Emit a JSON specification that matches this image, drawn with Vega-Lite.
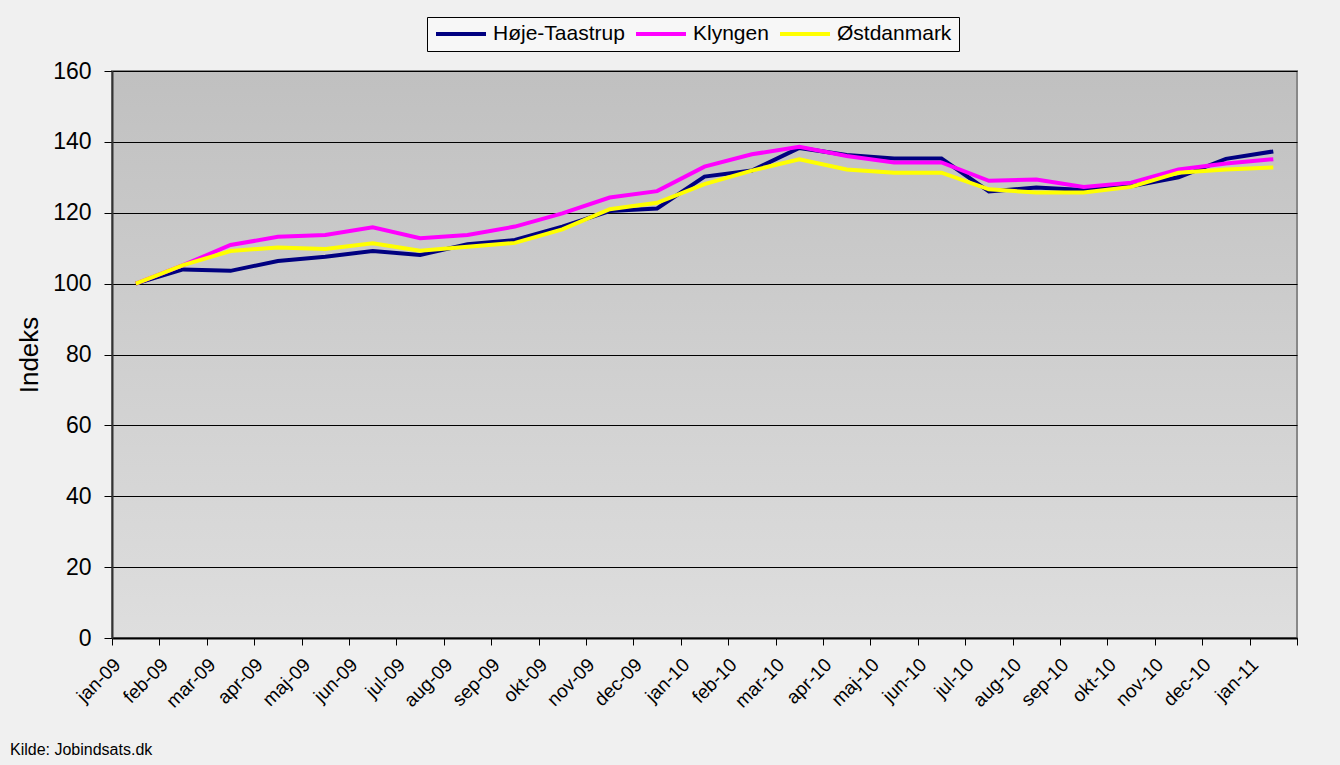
{
  "$schema": "https://vega.github.io/schema/vega-lite/v6.json",
  "width": 1185,
  "height": 567,
  "autosize": {"type": "none"},
  "padding": {"left": 112, "top": 71, "right": 43, "bottom": 127},
  "background": "#f0f0f0",
  "config": {
    "font": "Liberation Sans"
  },
  "view": {
    "stroke": "#888888",
    "strokeWidth": 2,
    "fill": {
      "gradient": "linear",
      "x1": 0, "y1": 0, "x2": 0, "y2": 1,
      "stops": [
        {"offset": 0, "color": "#c0c0c0"},
        {"offset": 1, "color": "#dedede"}
      ]
    }
  },
  "title": {
    "text": "Kilde: Jobindsats.dk",
    "orient": "bottom",
    "anchor": "start",
    "frame": "group",
    "fontSize": 16,
    "fontWeight": "normal",
    "color": "black",
    "dx": -102,
    "offset": 31
  },
  "data": {
    "values": [
      {"month": "jan-09", "series": "Høje-Taastrup", "value": 100},
      {"month": "feb-09", "series": "Høje-Taastrup", "value": 104.0},
      {"month": "mar-09", "series": "Høje-Taastrup", "value": 103.6},
      {"month": "apr-09", "series": "Høje-Taastrup", "value": 106.4},
      {"month": "maj-09", "series": "Høje-Taastrup", "value": 107.6},
      {"month": "jun-09", "series": "Høje-Taastrup", "value": 109.2},
      {"month": "jul-09", "series": "Høje-Taastrup", "value": 108.1},
      {"month": "aug-09", "series": "Høje-Taastrup", "value": 111.1},
      {"month": "sep-09", "series": "Høje-Taastrup", "value": 112.3},
      {"month": "okt-09", "series": "Høje-Taastrup", "value": 116.1},
      {"month": "nov-09", "series": "Høje-Taastrup", "value": 120.5},
      {"month": "dec-09", "series": "Høje-Taastrup", "value": 121.2},
      {"month": "jan-10", "series": "Høje-Taastrup", "value": 130.2},
      {"month": "feb-10", "series": "Høje-Taastrup", "value": 131.9},
      {"month": "mar-10", "series": "Høje-Taastrup", "value": 138.3},
      {"month": "apr-10", "series": "Høje-Taastrup", "value": 136.3},
      {"month": "maj-10", "series": "Høje-Taastrup", "value": 135.3},
      {"month": "jun-10", "series": "Høje-Taastrup", "value": 135.3},
      {"month": "jul-10", "series": "Høje-Taastrup", "value": 126.0},
      {"month": "aug-10", "series": "Høje-Taastrup", "value": 127.1},
      {"month": "sep-10", "series": "Høje-Taastrup", "value": 126.4},
      {"month": "okt-10", "series": "Høje-Taastrup", "value": 127.5},
      {"month": "nov-10", "series": "Høje-Taastrup", "value": 130.0},
      {"month": "dec-10", "series": "Høje-Taastrup", "value": 135.2},
      {"month": "jan-11", "series": "Høje-Taastrup", "value": 137.3},
      {"month": "jan-09", "series": "Klyngen", "value": 100},
      {"month": "feb-09", "series": "Klyngen", "value": 105.2},
      {"month": "mar-09", "series": "Klyngen", "value": 110.9},
      {"month": "apr-09", "series": "Klyngen", "value": 113.2},
      {"month": "maj-09", "series": "Klyngen", "value": 113.7},
      {"month": "jun-09", "series": "Klyngen", "value": 115.9},
      {"month": "jul-09", "series": "Klyngen", "value": 112.8},
      {"month": "aug-09", "series": "Klyngen", "value": 113.7},
      {"month": "sep-09", "series": "Klyngen", "value": 116.1},
      {"month": "okt-09", "series": "Klyngen", "value": 119.8},
      {"month": "nov-09", "series": "Klyngen", "value": 124.3},
      {"month": "dec-09", "series": "Klyngen", "value": 126.1},
      {"month": "jan-10", "series": "Klyngen", "value": 133.0},
      {"month": "feb-10", "series": "Klyngen", "value": 136.5},
      {"month": "mar-10", "series": "Klyngen", "value": 138.6},
      {"month": "apr-10", "series": "Klyngen", "value": 136.0},
      {"month": "maj-10", "series": "Klyngen", "value": 134.2},
      {"month": "jun-10", "series": "Klyngen", "value": 134.2},
      {"month": "jul-10", "series": "Klyngen", "value": 129.0},
      {"month": "aug-10", "series": "Klyngen", "value": 129.4},
      {"month": "sep-10", "series": "Klyngen", "value": 127.3},
      {"month": "okt-10", "series": "Klyngen", "value": 128.5},
      {"month": "nov-10", "series": "Klyngen", "value": 132.2},
      {"month": "dec-10", "series": "Klyngen", "value": 133.9},
      {"month": "jan-11", "series": "Klyngen", "value": 135.1},
      {"month": "jan-09", "series": "Østdanmark", "value": 100},
      {"month": "feb-09", "series": "Østdanmark", "value": 105.2},
      {"month": "mar-09", "series": "Østdanmark", "value": 109.2},
      {"month": "apr-09", "series": "Østdanmark", "value": 110.2},
      {"month": "maj-09", "series": "Østdanmark", "value": 109.8},
      {"month": "jun-09", "series": "Østdanmark", "value": 111.4},
      {"month": "jul-09", "series": "Østdanmark", "value": 109.3},
      {"month": "aug-09", "series": "Østdanmark", "value": 110.4},
      {"month": "sep-09", "series": "Østdanmark", "value": 111.5},
      {"month": "okt-09", "series": "Østdanmark", "value": 115.3},
      {"month": "nov-09", "series": "Østdanmark", "value": 121.0},
      {"month": "dec-09", "series": "Østdanmark", "value": 122.8},
      {"month": "jan-10", "series": "Østdanmark", "value": 128.1},
      {"month": "feb-10", "series": "Østdanmark", "value": 131.9},
      {"month": "mar-10", "series": "Østdanmark", "value": 135.1},
      {"month": "apr-10", "series": "Østdanmark", "value": 132.2},
      {"month": "maj-10", "series": "Østdanmark", "value": 131.3},
      {"month": "jun-10", "series": "Østdanmark", "value": 131.3},
      {"month": "jul-10", "series": "Østdanmark", "value": 126.6},
      {"month": "aug-10", "series": "Østdanmark", "value": 125.7},
      {"month": "sep-10", "series": "Østdanmark", "value": 125.7},
      {"month": "okt-10", "series": "Østdanmark", "value": 127.3},
      {"month": "nov-10", "series": "Østdanmark", "value": 131.3},
      {"month": "dec-10", "series": "Østdanmark", "value": 132.2},
      {"month": "jan-11", "series": "Østdanmark", "value": 132.8}
    ]
  },
  "mark": {"type": "line", "strokeWidth": 4},
  "encoding": {
    "x": {
      "field": "month", "type": "ordinal", "sort": null,
      "scale": {"type": "band", "paddingInner": 0, "paddingOuter": 0},
      "bandPosition": 0.5,
      "axis": {
        "title": null, "labelAngle": -45, "labelFontSize": 19, "labelColor": "black",
        "tickBand": "extent", "tickColor": "black", "tickSize": 7,
        "domainColor": "black", "domainWidth": 2, "labelPadding": 10, "labelOffset": -25, "grid": false
      }
    },
    "y": {
      "field": "value", "type": "quantitative",
      "scale": {"domain": [0, 160], "nice": false},
      "axis": {
        "title": "Indeks", "titleFontSize": 26, "titleFontWeight": "normal", "titleColor": "black",
        "labelFontSize": 23, "labelColor": "black", "values": [0, 20, 40, 60, 80, 100, 120, 140, 160],
        "tickSize": 8, "tickColor": "black", "domainColor": "#333333", "domainWidth": 2,
        "gridColor": "black", "gridWidth": 1, "labelPadding": 13, "titlePadding": 10
      }
    },
    "color": {
      "field": "series", "type": "nominal",
      "scale": {"domain": ["Høje-Taastrup", "Klyngen", "Østdanmark"], "range": ["#000080", "#ff00ff", "#ffff00"]},
      "legend": {
        "title": null, "orient": "none", "legendX": 315, "legendY": -54, "direction": "horizontal",
        "symbolType": "stroke", "symbolSize": 2500, "symbolStrokeWidth": 4, "clipHeight": 20,
        "labelFontSize": 21, "labelColor": "black", "labelOffset": 5, "columnPadding": 9,
        "padding": 7, "fillColor": "#f7f7f7", "strokeColor": "black", "labelLimit": 300
      }
    }
  }
}
